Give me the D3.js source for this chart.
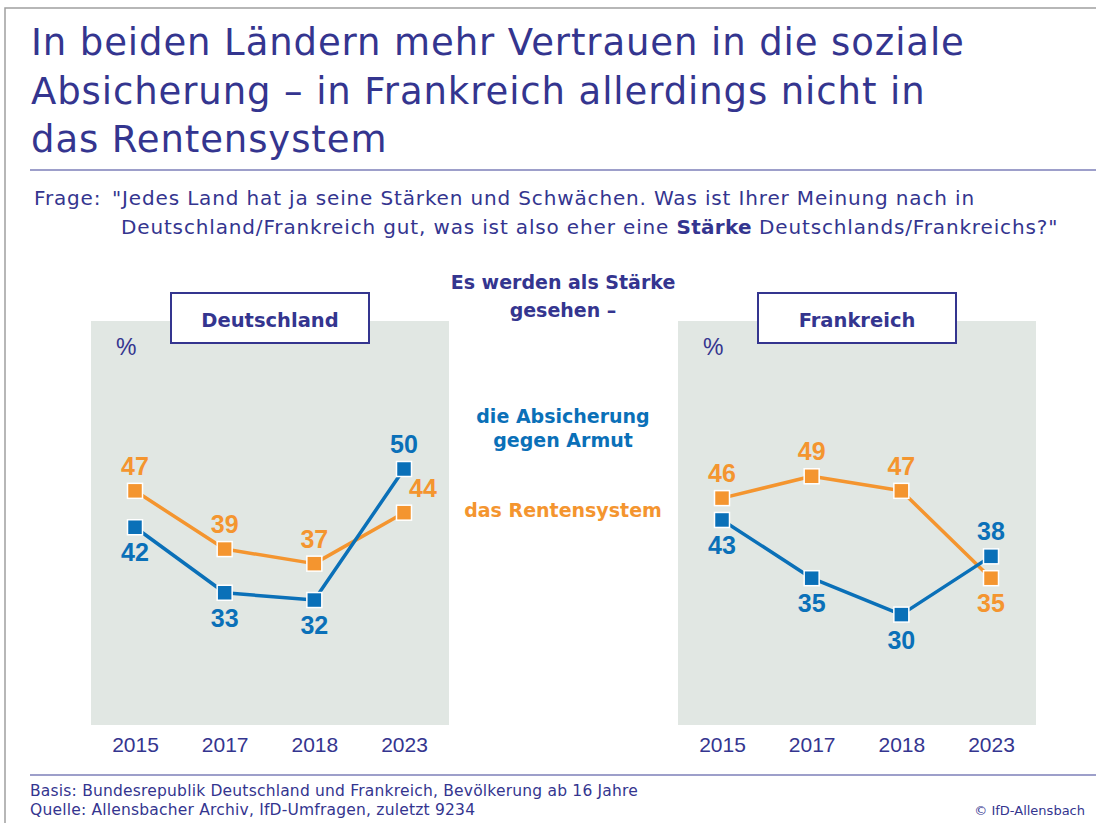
<!DOCTYPE html>
<html>
<head>
<meta charset="utf-8">
<script src="https://cdn.jsdelivr.net/npm/d3@7/dist/d3.min.js"></script>
<style>
  body { margin: 0; background: #fff; }
  svg { display: block; font-family: "DejaVu Sans", sans-serif; }
  .num { font-family: "Liberation Sans", Arial, sans-serif; }
</style>
</head>
<body>
<script>
(function () {
  "use strict";

  var years = ["2015", "2017", "2018", "2023"];
  var deAbsicherung = [42, 33, 32, 50];
  var deRente = [47, 39, 37, 44];
  var frAbsicherung = [43, 35, 30, 38];
  var frRente = [46, 49, 47, 35];

  var titleLines = [
    "In beiden Ländern mehr Vertrauen in die soziale",
    "Absicherung – in Frankreich allerdings nicht in",
    "das Rentensystem"
  ];
  var footLines = [
    "Basis: Bundesrepublik Deutschland und Frankreich, Bevölkerung ab 16 Jahre",
    "Quelle: Allensbacher Archiv, IfD-Umfragen, zuletzt 9234"
  ];

  var navy = "#34358f",
      blue = "#0a70b8",
      orange = "#f4952f",
      panelFill = "#e1e7e3",
      width = 1096,
      height = 823;

  var svg = d3.select("body").append("svg")
      .attr("width", width)
      .attr("height", height);

  // frame
  svg.append("path")
      .attr("d", "M5," + height + "V8H" + width)
      .attr("fill", "none")
      .attr("stroke", "#a0a0a0")
      .attr("stroke-width", 1.5);

  // title
  svg.selectAll(".title")
      .data(titleLines)
      .enter()
    .append("text")
      .attr("class", "title")
      .attr("x", 31)
      .attr("y", function (d, i) { return 55 + i * 48.5; })
      .attr("fill", navy)
      .style("font-size", "37px")
      .style("letter-spacing", "0.9px")
      .text(function (d) { return d; });

  svg.append("line")
      .attr("x1", 30).attr("x2", width)
      .attr("y1", 170).attr("y2", 170)
      .attr("stroke", "#7c7fb8")
      .attr("stroke-width", 1.5);

  // question
  var q = svg.append("g").attr("fill", navy).style("font-size", "20px").style("letter-spacing", "0.85px");
  q.append("text").attr("x", 34).attr("y", 205).text("Frage:");
  q.append("text").attr("x", 112).attr("y", 205)
      .text("\"Jedes Land hat ja seine Stärken und Schwächen. Was ist Ihrer Meinung nach in");
  var q2 = q.append("text").attr("x", 121).attr("y", 234);
  q2.append("tspan").text("Deutschland/Frankreich gut, was ist also eher eine ");
  q2.append("tspan").style("font-weight", "bold").style("letter-spacing", "0.3px").text("Stärke");
  q2.append("tspan").text(" Deutschlands/Frankreichs?\"");

  // centre legend
  var legend = svg.append("g")
      .attr("text-anchor", "middle")
      .style("font-weight", "bold")
      .style("font-size", "19px");
  [["Es werden als Stärke", 289, navy], ["gesehen –", 317, navy],
   ["die Absicherung", 423, blue], ["gegen Armut", 447, blue],
   ["das Rentensystem", 517, orange]].forEach(function (l) {
    legend.append("text")
        .attr("x", 563).attr("y", l[1])
        .attr("fill", l[2])
        .text(l[0]);
  });

  var y = d3.scaleLinear().domain([0, 50]).range([833, 469]);

  function panel(x0, name, absicherung, rente, blueAbove, orangeAbove, orangeDx) {
    var pw = 358;
    var g = svg.append("g");
    g.append("rect")
        .attr("x", x0).attr("y", 321)
        .attr("width", pw).attr("height", 404)
        .attr("fill", panelFill);

    var x = d3.scalePoint().domain(years).range([x0 + 44, x0 + 313]);

    // name box
    g.append("rect")
        .attr("x", x0 + 80).attr("y", 293)
        .attr("width", 198).attr("height", 50)
        .attr("fill", "#fff")
        .attr("stroke", navy)
        .attr("stroke-width", 2);
    g.append("text")
        .attr("x", x0 + 179).attr("y", 327)
        .attr("text-anchor", "middle")
        .attr("fill", navy)
        .style("font-weight", "bold")
        .style("font-size", "19.5px")
        .text(name);

    g.append("text")
        .attr("class", "num")
        .attr("x", x0 + 25).attr("y", 355)
        .attr("fill", navy)
        .style("font-size", "23px")
        .text("%");

    var axis = g.append("g")
        .attr("transform", "translate(0,725)")
        .call(d3.axisBottom(x).tickSize(0).tickPadding(0));
    axis.select(".domain").remove();
    axis.selectAll("text")
        .attr("class", "num")
        .attr("dy", 0)
        .attr("y", 27)
        .attr("fill", navy)
        .style("font-size", "21px");

    var line = d3.line()
        .x(function (d, i) { return x(years[i]); })
        .y(function (d) { return y(d); });

    function series(values, color, above, dx) {
      g.append("path")
          .datum(values)
          .attr("d", line)
          .attr("fill", "none")
          .attr("stroke", color)
          .attr("stroke-width", 3.5)
          .attr("stroke-linejoin", "round");
      g.selectAll(null)
          .data(values)
          .enter()
        .append("rect")
          .attr("x", function (d, i) { return x(years[i]) - 7.5; })
          .attr("y", function (d) { return y(d) - 7.5; })
          .attr("width", 15).attr("height", 15)
          .attr("fill", color)
          .attr("stroke", "#fff")
          .attr("stroke-width", 1.5);
      return function () {
        g.selectAll(null)
            .data(values)
            .enter()
          .append("text")
            .attr("class", "num")
            .attr("x", function (d, i) { return x(years[i]) + (dx ? dx[i] : 0); })
            .attr("y", function (d, i) { return y(d) + (above[i] ? -16 : 34); })
            .attr("text-anchor", "middle")
            .attr("fill", color)
            .style("font-weight", "bold")
            .style("font-size", "25px")
            .text(function (d) { return d; });
      };
    }

    var l1 = series(rente, orange, orangeAbove, orangeDx);
    var l2 = series(absicherung, blue, blueAbove);
    l1();
    l2();
  }

  panel(91, "Deutschland", deAbsicherung, deRente,
        [false, false, false, true], [true, true, true, true], [0, 0, 0, 19]);
  panel(678, "Frankreich", frAbsicherung, frRente,
        [false, false, false, true], [true, true, true, false]);

  // footer
  svg.append("line")
      .attr("x1", 30).attr("x2", width)
      .attr("y1", 775).attr("y2", 775)
      .attr("stroke", "#7c7fb8")
      .attr("stroke-width", 1.5);
  svg.selectAll(".foot")
      .data(footLines)
      .enter()
    .append("text")
      .attr("class", "foot")
      .attr("x", 30)
      .attr("y", function (d, i) { return 796 + i * 19; })
      .attr("fill", navy)
      .style("font-size", "15.5px")
      .style("letter-spacing", "0.2px")
      .text(function (d) { return d; });
  svg.append("text")
      .attr("x", 1085).attr("y", 815)
      .attr("text-anchor", "end")
      .attr("fill", navy)
      .style("font-size", "13px")
      .text("© IfD-Allensbach");
}());
</script>
</body>
</html>
